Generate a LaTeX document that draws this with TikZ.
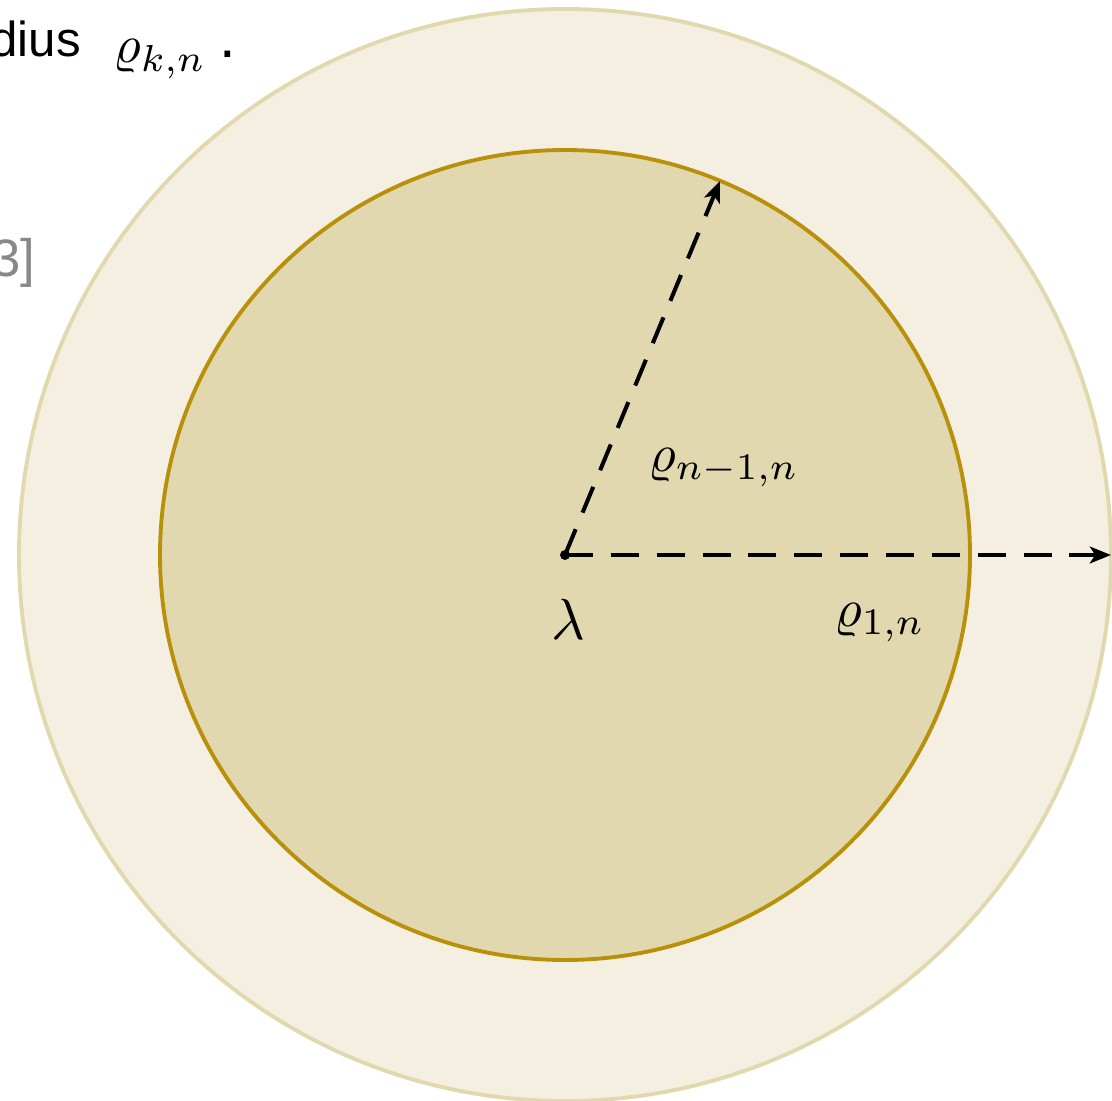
\documentclass[tikz,border=0pt]{standalone}
\usepackage{fontspec}
\newfontfamily\hv{Liberation Sans}
\usetikzlibrary{arrows.meta}
\definecolor{outerfill}{HTML}{F5EFE2}
\definecolor{outerline}{HTML}{E2D8AE}
\definecolor{innerfill}{HTML}{E1D8B0}
\definecolor{innerline}{HTML}{B8900A}
\definecolor{refgray}{HTML}{888888}
\tikzset{
  radiusarrow/.style={line width=2.3pt, dash pattern=on 15.9pt off 10.2pt,
    -{Stealth[length=12pt,width=9.5pt,inset=3pt]}},
  mathlabel/.style={scale=3.05, inner sep=0pt, anchor=base west},
  sanstext/.style={inner sep=0pt, font=\hv\fontsize{28}{32}\selectfont}
}
\begin{document}
\begin{tikzpicture}[x=0.02cm,y=-0.02cm]
\useasboundingbox (0,0) rectangle (1112,1101);
\clip (0,0) rectangle (1112,1101);
\coordinate (c) at (565,555);
% discs
\filldraw[fill=outerfill, draw=outerline, line width=2.2pt] (c) circle[radius=546];
\filldraw[fill=innerfill, draw=innerline, line width=2.2pt] (c) circle[radius=405];
% arrow end points
\coordinate (inner end) at (720,181);
\coordinate (outer end) at (1111,555);
\draw[radiusarrow] (c) -- (inner end);
\draw[radiusarrow] (c) -- (outer end);
\fill (c) circle[radius=5];
% labels
\node[mathlabel] (rhoinner) at (647,471) {$\varrho_{n-1,n}$};
\node[mathlabel] (rhoouter) at (833,626) {$\varrho_{1,n}$};
\node[scale=3.3, inner sep=0pt, anchor=base] (lambda) at (568,639) {$\lambda$};
% clipped caption fragments
\node[sanstext, anchor=base east] (dius) at (81,57) {dius};
\node[mathlabel] (rhok) at (112,63) {$\varrho_{k,n}$};
\node[sanstext, anchor=base west, font=\hv\fontsize{34}{38}\selectfont] (dot) at (219,58) {.};
\node[sanstext, anchor=base east, text=refgray, font=\hv\fontsize{30}{34}\selectfont] (ref) at (36,277) {3]};
\end{tikzpicture}
\end{document}
